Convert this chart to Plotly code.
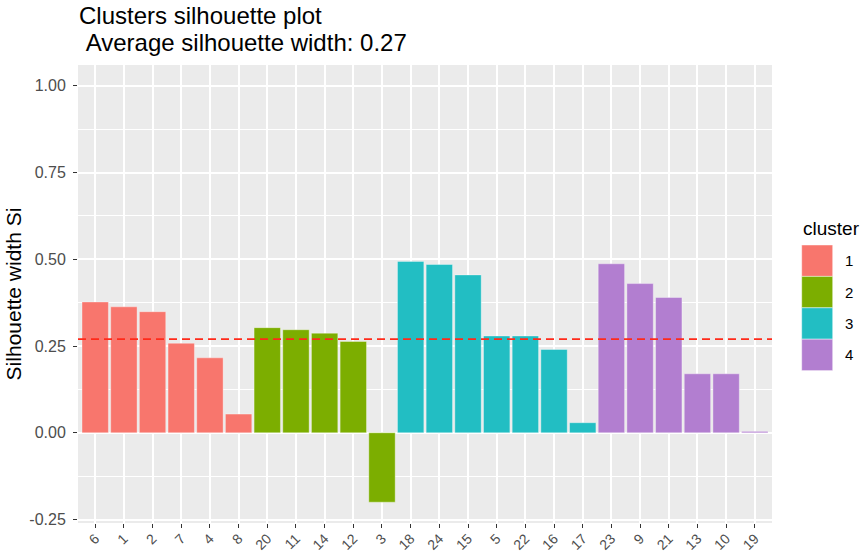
import plotly.graph_objects as go

# ---- data ----
names = ["6", "1", "2", "7", "4", "8", "20", "11", "14", "12", "3",
         "18", "24", "15", "5", "22", "16", "17", "23", "9", "21", "13", "10", "19"]
clusters = ["1", "1", "1", "1", "1", "1", "2", "2", "2", "2", "2",
            "3", "3", "3", "3", "3", "3", "3", "4", "4", "4", "4", "4", "4"]
sil_width = [0.377, 0.363, 0.349, 0.258, 0.216, 0.054,
             0.303, 0.297, 0.287, 0.263, -0.200,
             0.494, 0.485, 0.455, 0.279, 0.279, 0.240, 0.029,
             0.487, 0.430, 0.390, 0.170, 0.170, 0.004]
cluster_levels = ["1", "2", "3", "4"]
cluster_colors = ["#F8766D", "#7CAE00", "#22BEC3", "#B27ED0"]
avg_width = 0.27
y_ticks = [-0.25, 0.0, 0.25, 0.50, 0.75, 1.00]
y_ticktext = ["-0.25", "0.00", "0.25", "0.50", "0.75", "1.00"]
title_line1 = "Clusters silhouette plot"
title_line2 = "\u00a0Average silhouette width: 0.27"

W, H = 865, 552
ML, MR, MT, MB = 78, 93, 65, 29
PW, PH = W - ML - MR, H - MT - MB


def px_x(p):
    return (p - ML) / PW


def px_y(p):
    return (H - MB - p) / PH


FONT = "Liberation Sans, Arial, Helvetica, sans-serif"

fig = go.Figure()
for lev, col in zip(cluster_levels, cluster_colors):
    xs = [n for n, c in zip(names, clusters) if c == lev]
    ys = [v for v, c in zip(sil_width, clusters) if c == lev]
    fig.add_trace(go.Bar(
        x=xs, y=ys, name=lev, marker=dict(color=col,
                                          line=dict(color="rgba(255,255,255,0.35)", width=1)),
        showlegend=False))

# average line
fig.add_shape(type="line", xref="paper", yref="y", x0=0, x1=1, y0=avg_width, y1=avg_width,
              line=dict(color="#FF2A1A", width=1.7, dash="8px,5px"))

# title (two lines)
fig.add_annotation(xref="paper", yref="paper", x=px_x(77), y=px_y(15),
                   text=title_line1, showarrow=False, xanchor="left", yanchor="middle",
                   font=dict(family=FONT, size=24, color="#000000"))
fig.add_annotation(xref="paper", yref="paper", x=px_x(77), y=px_y(42),
                   text=title_line2, showarrow=False, xanchor="left", yanchor="middle",
                   font=dict(family=FONT, size=24, color="#000000"))

# manual legend (ggplot style keys)
key_left, key_right, key_top, key_h = 801.7, 832.7, 245.0, 31.4
fig.add_annotation(xref="paper", yref="paper", x=px_x(key_left - 1), y=px_y(229),
                   text="cluster", showarrow=False, xanchor="left", yanchor="middle",
                   font=dict(family=FONT, size=19, color="#000000"))
for i, (lev, col) in enumerate(zip(cluster_levels, cluster_colors)):
    t = key_top + i * key_h
    fig.add_shape(type="rect", xref="paper", yref="paper",
                  x0=px_x(key_left), x1=px_x(key_right), y0=px_y(t), y1=px_y(t + key_h),
                  fillcolor=col, line=dict(color="rgba(255,255,255,0.45)", width=1))
    fig.add_annotation(xref="paper", yref="paper", x=px_x(843), y=px_y(t + key_h / 2),
                       text=lev, showarrow=False, xanchor="left", yanchor="middle",
                       font=dict(family=FONT, size=15, color="#000000"))

fig.update_layout(
    width=W, height=H,
    margin=dict(l=ML, r=MR, t=MT, b=MB),
    paper_bgcolor="white", plot_bgcolor="#EBEBEB",
    bargap=0.08, barmode="overlay",
    font=dict(family=FONT, color="#4D4D4D"),
)
fig.update_xaxes(
    type="category", categoryorder="array", categoryarray=names,
    range=[-0.6, len(names) - 0.4],
    showgrid=True, gridcolor="white", gridwidth=1.5,
    ticks="outside", ticklen=4, tickcolor="#333333", tickwidth=1.2,
    tickangle=-45, ticklabelstandoff=-3,
    tickfont=dict(size=14, color="#4D4D4D", family=FONT),
    showline=False, zeroline=False, automargin=False,
)
fig.update_yaxes(
    range=[-0.26, 1.06],
    tickvals=y_ticks, ticktext=y_ticktext,
    showgrid=True, gridcolor="white", gridwidth=1.5,
    minor=dict(tickvals=[-0.125, 0.125, 0.375, 0.625, 0.875], showgrid=True,
               gridcolor="white", gridwidth=0.7, ticks=""),
    ticks="outside", ticklen=4, tickcolor="#333333", tickwidth=1.2,
    ticklabelstandoff=4,
    tickfont=dict(size=16, color="#4D4D4D", family=FONT),
    title=dict(text="Silhouette width Si", font=dict(size=21, color="#000000", family=FONT),
               standoff=1),
    zeroline=False, showline=False, automargin=False,
)

fig.write_html("out.html", config={"displayModeBar": False},
               post_script="document.body.style.margin='0';document.body.style.padding='0';")
